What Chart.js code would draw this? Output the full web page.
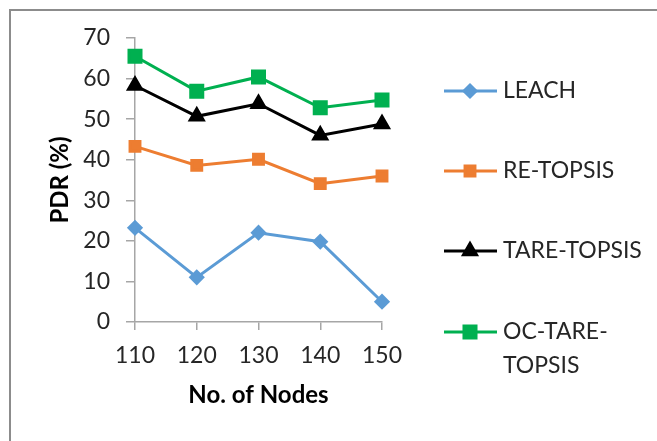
<!DOCTYPE html>
<html>
<head>
<meta charset="utf-8">
<script src="https://cdn.jsdelivr.net/npm/chart.js@4/dist/chart.umd.min.js"></script>
<style>
  body { margin: 0; background: #fff; }
  canvas { display: block; }
</style>
</head>
<body>
<canvas id="pdrChart" width="657" height="441"></canvas>
<script>
const nodes = ['110', '120', '130', '140', '150'];
const leach = [23.2, 11, 22, 19.8, 5];
const reTopsis = [43.3, 38.6, 40.1, 34.1, 36];
const tareTopsis = [58.3, 50.7, 53.8, 46, 48.8];
const ocTareTopsis = [65.5, 56.9, 60.4, 52.8, 54.7];
const yTicks = [0, 10, 20, 30, 40, 50, 60, 70];

const fontFamily = 'Lato, "Liberation Sans", sans-serif';
const axisGrey = '#a6a6a6';

// legend drawn at the right, Excel style (line sample with marker in the middle)
const sideLegend = {
    id: 'sideLegend',
    beforeDraw(chart) {
        const ctx = chart.ctx;
        ctx.save();
        ctx.strokeStyle = '#8c8c8c';
        ctx.lineWidth = 2;
        ctx.beginPath();
        ctx.moveTo(10, 441);
        ctx.lineTo(10, 10);
        ctx.lineTo(657, 10);
        ctx.stroke();
        ctx.restore();
    },
    afterDraw(chart) {
        const ctx = chart.ctx;
        const rows = [91, 171, 251, 332];
        ctx.save();
        ctx.font = '23px ' + fontFamily;
        ctx.textBaseline = 'middle';
        ctx.fillStyle = '#262626';
        chart.data.datasets.forEach(function(ds, i) {
            const y = rows[i];
            ctx.strokeStyle = ds.borderColor;
            ctx.lineWidth = 3;
            ctx.beginPath();
            ctx.moveTo(444, y);
            ctx.lineTo(497, y);
            ctx.stroke();
            ctx.fillStyle = ds.pointBackgroundColor;
            ctx.strokeStyle = ds.pointBorderColor;
            Chart.helpers.drawPoint(ctx, {
                pointStyle: ds.pointStyle,
                radius: ds.pointRadius,
                rotation: 0,
                borderWidth: 1
            }, 470, y);
            ctx.fillStyle = '#262626';
            const lines = ds.legendLines || [ds.label];
            lines.forEach(function(t, k) {
                ctx.fillText(t, 503, y + k * 34);
            });
        });
        ctx.restore();
    }
};

const data = {
    labels: nodes,
    datasets: [{
        label: 'LEACH',
        data: leach,
        borderColor: '#5b9bd5',
        pointBackgroundColor: '#5b9bd5',
        pointBorderColor: '#5b9bd5',
        pointStyle: 'rectRot',
        pointRadius: 6,
        borderWidth: 3
    }, {
        label: 'RE-TOPSIS',
        data: reTopsis,
        borderColor: '#ed7d31',
        pointBackgroundColor: '#ed7d31',
        pointBorderColor: '#ed7d31',
        pointStyle: 'rect',
        pointRadius: 7,
        borderWidth: 3
    }, {
        label: 'TARE-TOPSIS',
        data: tareTopsis,
        borderColor: '#000000',
        pointBackgroundColor: '#000000',
        pointBorderColor: '#000000',
        pointStyle: 'triangle',
        pointRadius: 7.5,
        borderWidth: 3
    }, {
        label: 'OC-TARE-TOPSIS',
        legendLines: ['OC-TARE-', 'TOPSIS'],
        data: ocTareTopsis,
        borderColor: '#00b050',
        pointBackgroundColor: '#00b050',
        pointBorderColor: '#00b050',
        pointStyle: 'rect',
        pointRadius: 8.5,
        borderWidth: 3
    }]
};

const config = {
    type: 'line',
    data: data,
    plugins: [sideLegend],
    options: {
        responsive: false,
        animation: false,
        layout: {
            padding: { left: 0, top: 38, right: 275, bottom: 0 }
        },
        elements: {
            line: { tension: 0 },
            point: { borderWidth: 1 }
        },
        scales: {
            x: {
                type: 'category',
                offset: false,
                afterFit: function(scale) { scale.height = 119; },
                grid: {
                    drawOnChartArea: false,
                    drawTicks: true,
                    tickLength: 8,
                    color: axisGrey,
                    lineWidth: 1.5
                },
                border: { color: axisGrey, width: 1.5 },
                ticks: {
                    padding: 12,
                    maxRotation: 0,
                    color: '#262626',
                    font: { family: fontFamily, size: 23 }
                },
                title: {
                    display: true,
                    text: 'No. of Nodes',
                    color: '#000',
                    padding: { top: 0, bottom: 31 },
                    font: { family: fontFamily, size: 24, weight: 'bold' }
                }
            },
            y: {
                min: 0,
                max: 70,
                afterFit: function(scale) { scale.width = 135; },
                afterBuildTicks: function(scale) {
                    scale.ticks = yTicks.map(function(v) { return { value: v }; });
                },
                grid: {
                    drawOnChartArea: false,
                    drawTicks: true,
                    tickLength: 9,
                    color: axisGrey,
                    lineWidth: 1.5
                },
                border: { color: axisGrey, width: 1.5 },
                ticks: {
                    padding: 16,
                    color: '#262626',
                    font: { family: fontFamily, size: 23 }
                },
                title: {
                    display: true,
                    text: 'PDR (%)',
                    color: '#000',
                    padding: { top: 46, bottom: 0 },
                    font: { family: fontFamily, size: 24, weight: 'bold' }
                }
            }
        },
        plugins: {
            legend: { display: false },
            tooltip: { enabled: false }
        }
    }
};

new Chart(document.getElementById('pdrChart').getContext('2d'), config);
</script>
</body>
</html>
